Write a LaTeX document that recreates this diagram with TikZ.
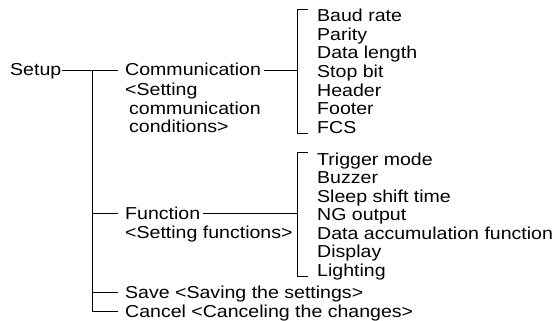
\documentclass[tikz,border=0pt]{standalone}
\usepackage{fontspec}
\setmainfont{Liberation Sans}[FakeStretch=1.13]
\usetikzlibrary{positioning}

\begin{document}
\begin{tikzpicture}[x=1pt,y=-1pt,
    lbl/.style={anchor=west,text height=12pt,text depth=0pt},
    note/.style={anchor=north west,align=left},
    link/.style={line width=0.9pt}]
    \tikzstyle{every node}=[inner sep=0pt,font=\fontsize{17.3}{18.8}\selectfont]
    \useasboundingbox (0,0) rectangle (560,321);
    \node[lbl] (setup) at (10,70) {Setup};
    \coordinate (trunk) at (92,70);
    \node[lbl] (comm) at (125,70) {Communication};
    \node[note] (commnote) at (125,82.5) {<Setting\\\hspace{4pt}communication\\\hspace{4pt}conditions>};
    \node[lbl] (func) at (125,213) {Function};
    \node[note] (funcnote) at (125,225.5) {<Setting functions>};
    \node[lbl] (save) at (125,292) {Save <Saving the settings>};
    \node[lbl] (cancel) at (125,311) {Cancel <Canceling the changes>};
    % sub items
    \foreach \t [count=\i] in {Baud rate,Parity,Data length,Stop bit,Header,Footer,FCS}
      \node[lbl] (c\i) at (317,{18.5*\i-2.5}) {\t};
    \foreach \t [count=\i] in {Trigger mode,Buzzer,Sleep shift time,NG output,Data accumulation function,Display,Lighting}
      \node[lbl] (f\i) at (317,{18.5*\i+140.5}) {\t};
    \coordinate (cb) at ([xshift=-20pt]c1.west);
    \coordinate (fb) at ([xshift=-20pt]f1.west);
    % connectors
    \draw[link] ([xshift=1pt]setup.east) -- ([xshift=-7pt]comm.west);
    \draw[link] (trunk) |- ([xshift=-7pt]cancel.west);
    \draw[link] (trunk |- func) -- ([xshift=-7pt]func.west);
    \draw[link] (trunk |- save) -- ([xshift=-7pt]save.west);
    \draw[link] ([xshift=3pt]comm.east) -- (comm.east -| cb);
    \draw[link] ([xshift=3pt]func.east) -- (func.east -| fb);
    \draw[link] ([xshift=-9pt]c1.north west) -| ([xshift=-20pt]c7.south west) -- ([xshift=-9pt]c7.south west);
    \draw[link] ([xshift=-9pt]f1.north west) -| ([xshift=-20pt]f7.south west) -- ([xshift=-9pt]f7.south west);
\end{tikzpicture}
\end{document}
